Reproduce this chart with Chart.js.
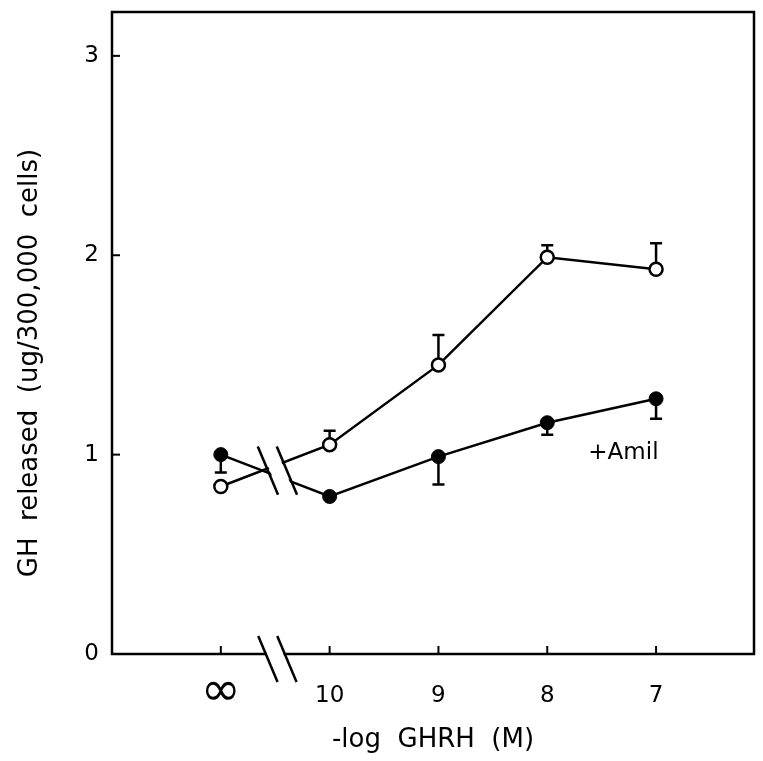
<!DOCTYPE html>
<html>
<head>
<meta charset="utf-8">
<script src="https://cdn.jsdelivr.net/npm/chart.js@4.4.0/dist/chart.umd.min.js"></script>
<style>
  html, body { margin: 0; padding: 0; background: #fff; }
</style>
</head>
<body>
<canvas id="chart" width="763" height="761"></canvas>
<script>
// -log GHRH doses, plotted evenly spaced (∞ = no GHRH)
var doseLabels = ["\u221E", "10", "9", "8", "7"];
var dosePos = [0, 1, 2, 3, 4];
var yTicks = [0, 1, 2, 3];

// control (open circles), error bars go up
var controlGH = [0.84, 1.05, 1.45, 1.99, 1.93];
var controlErr = [null, 1.12, 1.60, 2.05, 2.06];

// + amiloride (filled circles), error bars go down
var amilGH = [1.00, 0.79, 0.99, 1.16, 1.28];
var amilErr = [0.91, null, 0.85, 1.10, 1.18];

var FONT = "'DejaVu Sans', sans-serif";
Chart.defaults.font.family = FONT;
Chart.defaults.color = '#000';

function points(ys) {
  return dosePos.map(function(x, i) { return { x: x, y: ys[i] }; });
}

// break between ∞ and 10
var breakX = 0.52, breakY = 0.92;
var slope = 0.42, halfH = 23, halfGap = 9.5;

function slash(ctx, cx, cy) {
  ctx.beginPath();
  ctx.moveTo(cx - slope * halfH, cy - halfH);
  ctx.lineTo(cx + slope * halfH, cy + halfH);
  ctx.stroke();
}

var errorBars = {
  id: 'errorBars',
  beforeDatasetsDraw: function(chart) {
    var ctx = chart.ctx, xs = chart.scales.x, ys = chart.scales.y;
    ctx.save();
    ctx.strokeStyle = '#000';
    ctx.lineWidth = 2.5;
    [[controlGH, controlErr], [amilGH, amilErr]].forEach(function(s) {
      s[1].forEach(function(e, i) {
        if (e === null) return;
        var px = xs.getPixelForValue(dosePos[i]);
        var y0 = ys.getPixelForValue(s[0][i]);
        var y1 = ys.getPixelForValue(e);
        ctx.beginPath();
        ctx.moveTo(px, y0);
        ctx.lineTo(px, y1);
        ctx.moveTo(px - 6, y1);
        ctx.lineTo(px + 6, y1);
        ctx.stroke();
      });
    });
    ctx.restore();
  }
};

var frame = {
  id: 'frame',
  afterDatasetsDraw: function(chart) {
    var ctx = chart.ctx, a = chart.chartArea;
    var xs = chart.scales.x, ys = chart.scales.y;
    var bx = xs.getPixelForValue(breakX);
    var by = ys.getPixelForValue(breakY);
    ctx.save();

    // white gap in the data lines
    ctx.fillStyle = '#fff';
    ctx.beginPath();
    ctx.moveTo(bx - halfGap + 2 - slope * halfH, by - halfH);
    ctx.lineTo(bx + halfGap - 2 - slope * halfH, by - halfH);
    ctx.lineTo(bx + halfGap - 2 + slope * halfH, by + halfH);
    ctx.lineTo(bx - halfGap + 2 + slope * halfH, by + halfH);
    ctx.closePath();
    ctx.fill();

    ctx.strokeStyle = '#000';
    ctx.lineWidth = 2.5;
    ctx.lineCap = 'square';
    slash(ctx, bx - halfGap, by);
    slash(ctx, bx + halfGap, by);

    // box with broken bottom axis
    var ay = a.bottom + 5;
    var cut1 = bx - halfGap + slope * (a.bottom - ay);
    var cut2 = bx + halfGap + slope * (a.bottom - ay);
    ctx.beginPath();
    ctx.moveTo(cut1, a.bottom);
    ctx.lineTo(a.left, a.bottom);
    ctx.lineTo(a.left, a.top);
    ctx.lineTo(a.right, a.top);
    ctx.lineTo(a.right, a.bottom);
    ctx.lineTo(cut2, a.bottom);
    ctx.stroke();
    ctx.lineCap = 'butt';
    slash(ctx, bx - halfGap, ay);
    slash(ctx, bx + halfGap, ay);

    // inward ticks
    ctx.lineWidth = 2;
    yTicks.forEach(function(v) {
      if (v === 0) return;
      var py = ys.getPixelForValue(v);
      ctx.beginPath();
      ctx.moveTo(a.left, py);
      ctx.lineTo(a.left + 8, py);
      ctx.stroke();
    });
    dosePos.forEach(function(v) {
      var px = xs.getPixelForValue(v);
      ctx.beginPath();
      ctx.moveTo(px, a.bottom);
      ctx.lineTo(px, a.bottom - 8);
      ctx.stroke();
    });

    // texts
    ctx.fillStyle = '#000';
    ctx.textAlign = 'center';
    ctx.textBaseline = 'middle';
    ctx.font = '23px ' + FONT;
    ctx.fillText('+Amil', xs.getPixelForValue(3.7), ys.getPixelForValue(1.01));
    ctx.font = '26px ' + FONT;
    ctx.fillText('-log  GHRH  (M)', (a.left + a.right) / 2, 740);
    ctx.translate(30, 363);
    ctx.rotate(-Math.PI / 2);
    ctx.font = '26px ' + FONT;
    ctx.fillText('GH  released  (ug/300,000  cells)', 0, 0);
    ctx.restore();
  }
};

new Chart(document.getElementById('chart'), {
  type: 'line',
  data: {
    datasets: [
      {
        label: 'Control',
        data: points(controlGH),
        borderColor: '#000',
        borderWidth: 2.5,
        pointRadius: 6.5,
        pointBorderWidth: 2.5,
        pointBackgroundColor: '#fff',
        pointBorderColor: '#000'
      },
      {
        label: '+Amil',
        data: points(amilGH),
        borderColor: '#000',
        borderWidth: 2.5,
        pointRadius: 7,
        pointBorderWidth: 1,
        pointBackgroundColor: '#000',
        pointBorderColor: '#000'
      }
    ]
  },
  options: {
    responsive: false,
    animation: false,
    devicePixelRatio: 1,
    layout: { padding: { top: 12, right: 8, left: 0, bottom: 0 } },
    plugins: {
      legend: { display: false },
      tooltip: { enabled: false }
    },
    scales: {
      x: {
        type: 'linear',
        min: -1,
        max: 4.9,
        afterBuildTicks: function(s) {
          s.ticks = dosePos.map(function(v) { return { value: v }; });
        },
        afterFit: function(s) {
          s.height = 107;
          s.paddingLeft = 0;
          s.paddingRight = 0;
        },
        ticks: {
          font: function(c) {
            if (c.tick && c.tick.value === 0) {
              return { family: "'DejaVu Sans ExtraLight', 'DejaVu Sans', sans-serif", size: 48, lineHeight: 0.45 };
            }
            return { size: 23 };
          },
          padding: 28,
          maxRotation: 0,
          autoSkip: false,
          callback: function(v) { return doseLabels[dosePos.indexOf(v)]; }
        },
        grid: { display: false, drawTicks: false },
        border: { display: false }
      },
      y: {
        min: 0,
        max: 3.22,
        afterBuildTicks: function(s) {
          s.ticks = yTicks.map(function(v) { return { value: v }; });
        },
        afterFit: function(s) {
          s.width = 112;
          s.paddingTop = 0;
          s.paddingBottom = 0;
        },
        ticks: { font: { size: 23 }, padding: 13 },
        grid: { display: false, drawTicks: false },
        border: { display: false }
      }
    }
  },
  plugins: [errorBars, frame]
});
</script>
</body>
</html>
